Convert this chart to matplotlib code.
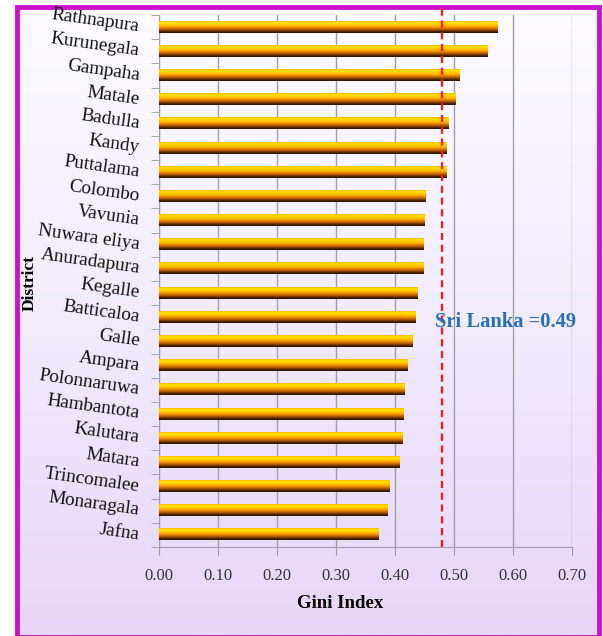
import numpy as np
import matplotlib
matplotlib.use('Agg')
import matplotlib.pyplot as plt
from matplotlib.colors import LinearSegmentedColormap
from matplotlib.patches import Rectangle

# Data
districts = ['Rathnapura', 'Kurunegala', 'Gampaha', 'Matale', 'Badulla', 'Kandy',
             'Puttalama', 'Colombo', 'Vavunia', 'Nuwara eliya', 'Anuradapura',
             'Kegalle', 'Batticaloa', 'Galle', 'Ampara', 'Polonnaruwa',
             'Hambantota', 'Kalutara', 'Matara', 'Trincomalee', 'Monaragala', 'Jafna']
gini = [0.574, 0.557, 0.509, 0.503, 0.490, 0.488,
        0.487, 0.451, 0.450, 0.449, 0.448,
        0.438, 0.435, 0.430, 0.422, 0.416,
        0.414, 0.412, 0.407, 0.391, 0.387, 0.372]
national = 0.48
national_label = 'Sri Lanka =0.49'
xticks = [0.0, 0.1, 0.2, 0.3, 0.4, 0.5, 0.6, 0.7]

W, H = 603, 636
fig = plt.figure(figsize=(W / 100, H / 100), dpi=100)
plt.rcParams['font.family'] = ['Liberation Serif', 'DejaVu Serif']

# background gradient inside the magenta frame
bg = fig.add_axes([0, 0, 1, 1], zorder=-5)
bg.axis('off')
bg_cmap = LinearSegmentedColormap.from_list('bg', ['#fcfbff', '#f1ebfb', '#e6d6f7'])
bg.imshow(np.linspace(0, 1, 256).reshape(-1, 1), cmap=bg_cmap, aspect='auto',
          extent=[16, 599, 636, 6])
bg.set_xlim(0, W)
bg.set_ylim(H, 0)
bg.add_patch(Rectangle((16.5, 6.5), 582, 630, fill=False, ec='#cc11cc', lw=3.5))

# main axes
ax = fig.add_axes([159 / W, 1 - 547 / H, (572 - 159) / W, (547 - 15) / H])
ax.set_facecolor('none')

bar_cmap = LinearSegmentedColormap.from_list(
    'bar', [(0.0, '#ffb400'), (0.15, '#ffe600'), (0.45, '#ffa800'),
            (0.7, '#b85c00'), (0.88, '#4a2200'), (1.0, '#2a1000')])
grad = np.linspace(0, 1, 64).reshape(-1, 1)
h = 0.46
for i, v in enumerate(gini):
    ax.imshow(grad, cmap=bar_cmap, aspect='auto', interpolation='bilinear',
              extent=[0, v, i + h / 2, i - h / 2], zorder=3)

ax.set_xlim(0, 0.7)
ax.set_ylim(len(districts) - 0.5, -0.5)

ax.set_xticks(xticks)
ax.set_xticklabels(['%.2f' % t for t in xticks], fontsize=12, color='#333333')
ax.set_yticks(range(len(districts)))
ax.set_yticklabels(districts, fontsize=13.8, rotation=-8, rotation_mode='anchor',
                   ha='right', va='center', color='#111111')
ax.set_yticks(np.arange(-0.5, len(districts), 1), minor=True)
ax.tick_params(axis='y', which='major', length=0, pad=14)
ax.tick_params(axis='y', which='minor', length=6, color='#999999', direction='out')
ax.tick_params(axis='x', length=6, color='#999999', pad=9)

ax.grid(axis='x', color='#a0a0a8', lw=1, zorder=1)
for s in ['top', 'right']:
    ax.spines[s].set_visible(False)
for s in ['left', 'bottom']:
    ax.spines[s].set_color('#a0a0a8')

# national line
ax.plot([national, national], [0, 1.014], transform=ax.get_xaxis_transform(),
        color='#e8202a', lw=1.7, ls=(0, (3, 2)), zorder=4, clip_on=False)
ax.text(0.467, 12.2, national_label, color='#2a72b8', fontsize=14.8,
        fontweight='bold', va='center', ha='left', zorder=5)

fig.text(340 / W, 1 - 603 / H, 'Gini Index', fontsize=13.5, fontweight='bold',
         ha='center', va='center')
fig.text(30 / W, 1 - 283 / H, 'District', rotation=90, fontsize=12.5,
         fontweight='bold', ha='center', va='center')

fig.savefig('out.png', dpi=100)
